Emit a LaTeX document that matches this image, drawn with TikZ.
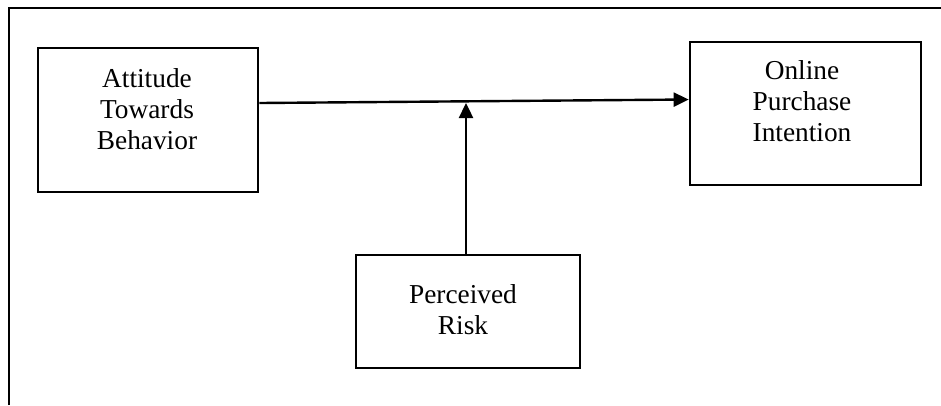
\documentclass[tikz,border=0pt]{standalone}
\usepackage{fontspec}
\setmainfont{Liberation Serif}
\usetikzlibrary{arrows.meta}
\begin{document}
\begin{tikzpicture}[x=0.75pt,y=-0.75pt,
  box/.style={draw=black,line width=2pt,rectangle,inner sep=0pt},
  lbl/.style={anchor=north,align=center,inner sep=0pt,
    font=\fontsize{20.5}{23.25}\selectfont},
  link/.style={line width=1.8pt,-{Triangle[length=11.25pt,width=10.5pt]}},
  frame/.style={line width=2pt}]
\useasboundingbox (0,0) rectangle (941,405);
% open outer frame: top and left edges
\coordinate (fl) at (9,405);
\coordinate (fc) at (9,8);
\coordinate (fr) at (941,8);
\draw[frame] (fl) -- (fc) -- (fr);
% boxes
\node[box,minimum width=165pt,minimum height=108pt] (atb) at (148,120) {};
\node[box,minimum width=173.25pt,minimum height=107.25pt] (opi) at (805.5,113.5) {};
\node[box,minimum width=168pt,minimum height=84.75pt] (pr) at (468,311.5) {};
% box texts
\node[lbl] (atbt) at (147,68.3) {Attitude\\Towards\\Behavior};
\node[lbl] (opit) at (802,60.3) {Online\\Purchase\\Intention};
\node[lbl] (prt) at (463,284.3) {Perceived\\Risk};
% connectors
\coordinate (hs) at ([yshift=12.75pt]atb.east);
\coordinate (he) at ([yshift=10.5pt]opi.west);
\draw[link] (hs) -- (he);
\coordinate (mod) at (466,103);
\draw[link] (pr.north -| mod) -- (mod);
\end{tikzpicture}
\end{document}
